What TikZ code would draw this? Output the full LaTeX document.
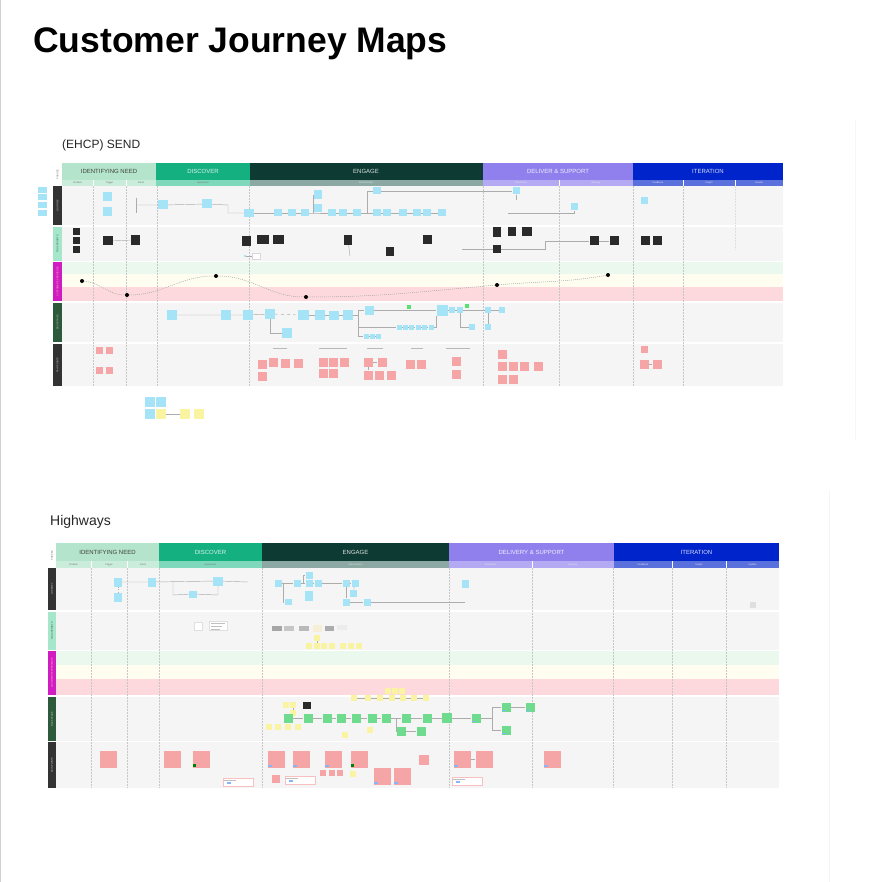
\documentclass[tikz,border=0pt]{standalone}
\usepackage{fontspec}
\setmainfont{Liberation Sans}
\definecolor{idn}{HTML}{B4E4CB}
\definecolor{idnS}{HTML}{C9EDDA}
\definecolor{dis}{HTML}{14B07F}
\definecolor{disS}{HTML}{80D8BC}
\definecolor{eng}{HTML}{0D3B33}
\definecolor{engS}{HTML}{8BA8A2}
\definecolor{del}{HTML}{8F80EE}
\definecolor{delS}{HTML}{B4AAF4}
\definecolor{ite}{HTML}{0024CC}
\definecolor{iteS}{HTML}{5A70DD}
\definecolor{rowbg}{HTML}{F5F5F5}
\definecolor{cxg}{HTML}{EAF8EE}
\definecolor{cxy}{HTML}{FEFDEF}
\definecolor{cxp}{HTML}{FDD9DD}
\definecolor{labdark}{HTML}{333333}
\definecolor{labmint}{HTML}{A6E6CB}
\definecolor{labmag}{HTML}{D01CC0}
\definecolor{labgreen}{HTML}{2E5A3C}
\definecolor{cyS}{HTML}{A5E3F6}
\definecolor{pkS}{HTML}{F5A5A5}
\definecolor{ylS}{HTML}{FAF3A2}
\definecolor{grS}{HTML}{6EDB8E}
\definecolor{dkS}{HTML}{2A2A2A}
\tikzset{
  hdr/.style={font=\fontsize{6}{6}\selectfont, anchor=center, inner sep=0},
  subh/.style={font=\fontsize{2.4}{2.4}\selectfont, text=black!55, anchor=center, inner sep=0},
  lab/.style={font=\fontsize{2.4}{2.4}\selectfont, rotate=90, anchor=center, inner sep=0},
  cy/.style={fill=cyS, inner sep=0, minimum width=9, minimum height=9},
  dk/.style={fill=dkS, inner sep=0, minimum width=9, minimum height=9},
  pk/.style={fill=pkS, inner sep=0, minimum width=9, minimum height=9},
  yl/.style={fill=ylS, inner sep=0, minimum width=6, minimum height=6},
  gr/.style={fill=grS, inner sep=0, minimum width=9, minimum height=9},
  note/.style={fill=white, draw=pkS!70, line width=0.4, inner sep=0, minimum width=30, minimum height=8},
  conn/.style={draw=gray!65, line width=0.45},
  vline/.style={draw=gray!45, line width=0.5, dash pattern=on 2pt off 1pt},
  dot/.style={circle, fill=black, inner sep=0, minimum size=4},
  curve/.style={draw=gray!70, line width=0.5, dash pattern=on 1pt off 1pt},
  tag/.style={fill=cyS!80!blue, inner sep=0, minimum width=4, minimum height=1.5},
  gtag/.style={fill=green!50!black, inner sep=0, minimum width=2.5, minimum height=2.5},
}
\begin{document}
\begin{tikzpicture}[x=1pt,y=-1pt]
\fill[white] (0,0) rectangle (882,882);
\useasboundingbox (0,0) rectangle (882,882);
\draw[gray!35, line width=1] (0.5,0) -- (0.5,882);
\draw[gray!8, line width=1] (855,120) -- (855,440);
\draw[gray!8, line width=1] (829,490) -- (829,882);

\node[anchor=base west, inner sep=0, font=\fontsize{35.5}{36}\selectfont\bfseries] (title) at (33,53) {Customer Journey Maps};

%% ================= MAP 1 =================
\node[anchor=base west, inner sep=0, font=\fontsize{12}{12}\selectfont, text=black!85] (t1) at (62,149) {(EHCP) SEND};

% row backgrounds
\fill[rowbg] (62,186) rectangle (783,225);
\fill[rowbg] (62,227) rectangle (783,261);
\fill[cxg] (62,262) rectangle (783,274);
\fill[cxy] (62,274) rectangle (783,287);
\fill[cxp] (62,287) rectangle (783,301);
\fill[rowbg] (62,303) rectangle (783,342);
\fill[rowbg] (62,344) rectangle (783,386);

% phase header
\fill[idn] (62,163) rectangle (156,180);
\fill[dis] (156,163) rectangle (250,180);
\fill[eng] (250,163) rectangle (483,180);
\fill[del] (483,163) rectangle (633,180);
\fill[ite] (633,163) rectangle (783,180);
\fill[idnS] (62,180) rectangle (156,186);
\fill[disS] (156,180) rectangle (250,186);
\fill[engS] (250,180) rectangle (483,186);
\fill[delS] (483,180) rectangle (633,186);
\fill[iteS] (633,180) rectangle (783,186);
\foreach \xx in {93,126,559,683,735} \draw[white, line width=0.4] (\xx,180) -- (\xx,186);
\node[hdr, text=black!75] (h1a) at (109,171.5) {IDENTIFYING NEED};
\node[hdr, text=white!85!dis] (h1b) at (203,171.5) {DISCOVER};
\node[hdr, text=white!85!eng] (h1c) at (366,171.5) {ENGAGE};
\node[hdr, text=white!88!del] (h1d) at (558,171.5) {DELIVER \& SUPPORT};
\node[hdr, text=white!85!ite] (h1e) at (708,171.5) {ITERATION};
\node[subh] (s1a) at (77.5,183) {Problem};
\node[subh] (s1b) at (109.5,183) {Trigger};
\node[subh] (s1c) at (141,183) {Intent};
\node[subh] (s1d) at (203,183) {Awareness};
\node[subh, text=white!90!black] (s1e) at (366,183) {Interaction(s)};
\node[subh, text=white!90!black] (s1f) at (521,183) {Resolution};
\node[subh, text=white!90!black] (s1g) at (596,183) {Delivery};
\node[subh, text=white!90!black] (s1h) at (658,183) {Feedback};
\node[subh, text=white!90!black] (s1i) at (709,183) {Insight};
\node[subh, text=white!90!black] (s1j) at (759,183) {Include};

% label column
\fill[white] (53,163) rectangle (62,186);
\fill[labdark] (53,186) rectangle (62,225);
\fill[labmint] (53,227) rectangle (62,261);
\fill[labmag] (53,262) rectangle (62,301);
\fill[labgreen] (53,303) rectangle (62,342);
\fill[labdark] (53,344) rectangle (62,386);
\node[lab, text=black!60] (l1a) at (57.5,174.5) {PHASES};
\node[lab, text=white!80!black] (l1b) at (57.5,205.5) {JOURNEY};
\node[lab, text=labgreen] (l1c) at (57.5,244) {TOUCHPOINTS};
\node[lab, text=pink] (l1d) at (57.5,281.5) {CUSTOMER EXPERIENCE};
\node[lab, text=white!80!black] (l1e) at (57.5,322.5) {BACKSTAGE};
\node[lab, text=white!80!black] (l1f) at (57.5,365) {PAIN POINTS};

% column lines
\foreach \xx in {93,126,157,249,483,559,633,683} \draw[vline] (\xx,186) -- (\xx,386);
\draw[vline, gray!25] (735,186) -- (735,250);

% journey row
\foreach \nm/\x/\y/\w/\h in {a1/42/190/9/6, a2/42/197/9/6, a3/42/205/9/6, a4/42/213/9/6,
  jt1/107/197/9/9, jt2/107/212/9/9, j1/163/205/10/9, j2/207/204/10/9, j3/249/213/10/8,
  j4/278/213/8/7, j5/292/213/8/7, j6/305/213/8/7, j7/318/195/8/9, j8/318/208/8/8,
  j9/332/213/8/7, j10/343/213/8/7, j11/357/213/8/7, j12/377/191/8/7, j13/377/213/8/7,
  j14/387/213/8/7, j15/403/213/8/7, j16/417/213/8/7, j17/427/213/8/7, j18/442/213/8/7,
  j19/516/191/7/7, j20/574/207/7/7, j21/644/201/7/7}
  \node[cy, minimum width=\w, minimum height=\h] (\nm) at (\x,\y) {};
\coordinate (v1) at (136,198); \coordinate (v2) at (136,213); \coordinate (h1) at (136,205);
\coordinate (k1) at (228,205); \coordinate (k2) at (228,213);
\draw[conn] (v1) -- (v2);
\draw[conn] (h1) -- (j1) -- (j2) -- (k1) -- (k2) -- (j3);
\draw[conn] (j3) -- (j4) -- (j5) -- (j6);
\coordinate (k3) at (313,213); \coordinate (k4) at (313,195); \coordinate (k5) at (313,208);
\draw[conn] (j6) -- (k3) -- (j9); \draw[conn] (k3) -- (k4) -- (j7); \draw[conn] (k5) -- (j8);
\draw[conn] (j9) -- (j10) -- (j11) -- (j13) -- (j14) -- (j15) -- (j16) -- (j17) -- (j18);
\coordinate (k6) at (367,213); \coordinate (k7) at (367,191); \coordinate (k8) at (516,200);
\draw[conn] (k6) -- (k7) -- (j12) -- (j19) -- (k8);
\coordinate (k9) at (508,213); \coordinate (k10) at (574,213);
\draw[conn] (k9) -- (k10) -- (j20);

% touchpoints row
\foreach \nm/\x/\y/\w/\h in {d1/76/232/7/7, d2/76/241/7/7, d3/76/250/7/7, d4/108/241/10/9,
  d5/135/240/9/10, d6/246/241/9/10, d7/263/240/12/9, d8/278/240/11/9, d9/348/240/8/10,
  d10/390/252/8/9, d11/427/240/9/9, d12/497/232/8/10, d13/512/232/8/9, d14/527/232/10/9,
  d15/497/249/8/8, d16/594/241/9/9, d17/614/241/9/9, d18/645/241/9/9, d19/657/241/9/9}
  \node[dk, minimum width=\w, minimum height=\h] (\nm) at (\x,\y) {};
\draw[conn] (d4) -- (d5);
\coordinate (m1) at (462,249); \coordinate (m2) at (545,249); \coordinate (m3) at (545,241); \coordinate (m4) at (350,256);
\draw[conn] (m1) -- (d15) -- (m2) -- (m3) -- (d16) -- (d17);
\draw[conn] (d9) -- (m4);
\node[fill=white, draw=gray!30, line width=0.3, inner sep=0, minimum width=8, minimum height=6] (w1) at (256,256) {};
\node[fill=cyS, inner sep=0, minimum size=2] (w2) at (245,256) {};
\draw[conn] (w2) -- (w1);

% customer experience curve
\node[dot] (e1) at (82,281) {};
\node[dot] (e2) at (127,295) {};
\node[dot] (e3) at (216,276) {};
\node[dot] (e4) at (306,297) {};
\node[dot] (e5) at (497,285) {};
\node[dot] (e6) at (608,275) {};
\draw[curve] (e1) to[out=-5,in=180] (e2) to[out=0,in=180] (e3) to[out=0,in=180] (e4) to[out=0,in=185] (e5) to[out=5,in=190] (e6);

% backstage row
\foreach \nm/\x/\y/\w/\h in {b1/172/315/10/10, b2/226/315/10/10, b3/248/315/10/10, b4/270/314/10/10,
  b5/287/333/10/10, b6/303/315/11/10, b7/320/315/10/10, b8/334/315/10/9, b9/348/315/10/10,
  b10/369/310/9/9, b11/442/310/11/11, b12/452/310/6/6, b13/460/310/6/6, b14/488/310/6/6,
  b15/502/310/6/6, b16/472/327/6/6, b17/488/327/6/6,
  s1/399/327/5/5, s2/405/327/5/5, s3/411/327/5/5, s4/418/327/5/5, s5/424/327/5/5, s6/431/327/5/5,
  r1/366/336/5/5, r2/372/336/5/5, r3/378/336/5/5}
  \node[cy, minimum width=\w, minimum height=\h] (\nm) at (\x,\y) {};
\node[fill=grS!80!green, inner sep=0, minimum size=3.5] (g1) at (409,307) {};
\node[fill=grS!80!green, inner sep=0, minimum size=3.5] (g2) at (467,306) {};
\draw[conn] (b1) -- (b2) -- (b3) -- (b4);
\draw[conn] (b4) |- (b5);
\draw[conn, dashed] (b4) -- (b6);
\draw[conn] (b6) -- (b7) -- (b8) -- (b9);
\coordinate (c1) at (358,315); \coordinate (c2) at (358,310); \coordinate (c3) at (358,336); \coordinate (c4) at (358,327);
\coordinate (c5) at (436,327); \coordinate (c6) at (436,316);
\draw[conn] (b9) -- (c1); \draw[conn] (c2) -- (c3);
\draw[conn] (c2) -- (b10) -- (b11) -- (b12) -- (b13);
\draw[conn] (c3) -- (r1) -- (r2) -- (r3);
\draw[conn] (c4) -- (s1) -- (s2) -- (s3) -- (s4) -- (s5) -- (s6) -- (c5) -- (c6);
\draw[conn] (b13) |- (b16);
\draw[conn] (b13) -- (b14) -- (b15);
\draw[conn] (b14) -- (b17);

% pain points row
\foreach \nm/\x/\y/\w in {p1/99/350/7, p2/109/350/7, p3/99/370/7, p4/109/370/7,
  p5/262/364/9, p6/273/362/9, p7/285/363/9, p8/298/363/9, p9/262/376/9,
  p10/323/362/9, p11/333/362/9, p12/344/362/9, p13/323/373/9, p14/333/373/9,
  p15/368/362/9, p16/382/362/9, p17/368/375/9, p18/379/375/9, p19/391/375/9,
  p20/410/364/9, p21/421/364/9, p22/456/361/9, p23/456/374/9,
  p24/502/354/9, p25/502/366/9, p26/513/366/9, p27/524/366/9, p28/538/366/9, p29/502/379/9, p30/513/379/9,
  p31/644/349/7, p32/644/364/9, p33/657/364/9}
  \node[pk, minimum width=\w, minimum height=\w] (\nm) at (\x,\y) {};
\draw[conn] (p15) -- (p16); \draw[conn] (p15) -- (p17); \draw[conn] (p32) -- (p33);
\foreach \xx/\ww in {280/14, 333/28, 375/16, 417/12, 458/24}
  \draw[gray!55, line width=0.6] (\xx-\ww/2,348) -- (\xx+\ww/2,348);

% stickies below map 1
\node[cy, minimum width=10, minimum height=10] (n1) at (150,402) {};
\node[cy, minimum width=10, minimum height=10] (n2) at (161,402) {};
\node[cy, minimum width=10, minimum height=10] (n3) at (150,414) {};
\node[yl, minimum width=10, minimum height=10] (n4) at (161,414) {};
\node[yl, minimum width=10, minimum height=10] (n5) at (185,414) {};
\node[yl, minimum width=10, minimum height=10] (n6) at (199,414) {};
\draw[conn] (n4) -- (n5);

%% ================= MAP 2 =================
\node[anchor=base west, inner sep=0, font=\fontsize{14}{14}\selectfont, text=black!85] (t2) at (50,525) {Highways};

\fill[rowbg] (56,568) rectangle (779,610);
\fill[rowbg] (56,612) rectangle (779,650);
\fill[cxg] (56,651) rectangle (779,665);
\fill[cxy] (56,665) rectangle (779,679);
\fill[cxp] (56,679) rectangle (779,695);
\fill[rowbg] (56,697) rectangle (779,741);
\fill[rowbg] (56,742) rectangle (779,788);

\fill[idn] (56,543) rectangle (159,561);
\fill[dis] (159,543) rectangle (262,561);
\fill[eng] (262,543) rectangle (449,561);
\fill[del] (449,543) rectangle (614,561);
\fill[ite] (614,543) rectangle (779,561);
\fill[idnS] (56,561) rectangle (159,568);
\fill[disS] (159,561) rectangle (262,568);
\fill[engS] (262,561) rectangle (449,568);
\fill[delS] (449,561) rectangle (614,568);
\fill[iteS] (614,561) rectangle (779,568);
\foreach \xx in {91,127,532,672,726} \draw[white, line width=0.4] (\xx,561) -- (\xx,568);
\node[hdr, text=black!75] (h2a) at (107.5,552) {IDENTIFYING NEED};
\node[hdr, text=white!85!dis] (h2b) at (210.5,552) {DISCOVER};
\node[hdr, text=white!85!eng] (h2c) at (355.5,552) {ENGAGE};
\node[hdr, text=white!88!del] (h2d) at (531.5,552) {DELIVERY \& SUPPORT};
\node[hdr, text=white!85!ite] (h2e) at (696.5,552) {ITERATION};
\node[subh] (s2a) at (73.5,564.5) {Problem};
\node[subh] (s2b) at (109,564.5) {Trigger};
\node[subh] (s2c) at (143,564.5) {Intent};
\node[subh] (s2d) at (210.5,564.5) {Awareness};
\node[subh, text=white!90!black] (s2e) at (355.5,564.5) {Interaction(s)};
\node[subh, text=white!90!black] (s2f) at (490.5,564.5) {Resolution};
\node[subh, text=white!90!black] (s2g) at (573,564.5) {Delivery};
\node[subh, text=white!90!black] (s2h) at (643,564.5) {Feedback};
\node[subh, text=white!90!black] (s2i) at (699,564.5) {Insight};
\node[subh, text=white!90!black] (s2j) at (752.5,564.5) {Update};

\fill[white] (48,543) rectangle (56,568);
\fill[labdark] (48,568) rectangle (56,610);
\fill[labmint] (48,612) rectangle (56,650);
\fill[labmag] (48,651) rectangle (56,695);
\fill[labgreen] (48,697) rectangle (56,741);
\fill[labdark] (48,742) rectangle (56,788);
\node[lab, text=black!60] (l2a) at (52,555.5) {PHASES};
\node[lab, text=white!80!black] (l2b) at (52,589) {JOURNEY};
\node[lab, text=labgreen] (l2c) at (52,631) {TOUCHPOINTS};
\node[lab, text=pink] (l2d) at (52,673) {CUSTOMER EXPERIENCE};
\node[lab, text=white!80!black] (l2e) at (52,719) {BACKSTAGE};
\node[lab, text=white!80!black] (l2f) at (52,765) {PAIN POINTS};

\foreach \xx in {91,127,159,262,449,532,613,672,726} \draw[vline] (\xx,568) -- (\xx,788);

% journey map 2
\foreach \nm/\x/\y/\w/\h in {q1/118/582/8/9, q2/118/597/8/9, q3/152/582/8/9, q4/218/581/10/9, q5/193/594/8/7,
  q6/278/583/7/7, q7/297/583/7/7, q8/309/575/7/7, q9/309/583/7/7, q10/318/583/7/7, q11/309/596/8/10,
  q12/288/602/7/6, q13/346/583/7/7, q14/355/583/7/7, q15/353/593/7/7, q16/346/602/7/7, q17/367/602/7/7,
  q18/465/584/7/8}
  \node[cy, minimum width=\w, minimum height=\h] (\nm) at (\x,\y) {};
\node[fill=gray!25, inner sep=0, minimum width=6, minimum height=6] (q19) at (753,605) {};
\draw[conn] (q1) -- (q3) -- (q4);
\draw[conn, dotted] (q1) -- (q2);
\coordinate (rr0) at (248,582); \coordinate (rr1) at (173,582); \coordinate (rr2) at (173,595); \coordinate (rr3) at (218,595);
\draw[conn] (q4) -- (rr0);
\draw[conn] (rr1) -- (rr2) -- (q5) -- (rr3) -- (q4);
\coordinate (rr4) at (283,583); \coordinate (rr5) at (283,602);
\draw[conn] (q6) -- (q7); \draw[conn] (rr4) -- (rr5) -- (q12);
\coordinate (rr6) at (303,583); \coordinate (rr7) at (303,575);
\draw[conn] (q7) -- (q9); \draw[conn] (rr6) -- (rr7) -- (q8);
\draw[conn] (q9) -- (q10) -- (q13) -- (q14);
\draw[conn] (q13) -- (q16) -- (q17);
\draw[conn] (q14) -- (q15);
\coordinate (rr8) at (465,602);
\draw[conn] (q17) -- (rr8);

% touchpoints map 2
\node[fill=white, draw=gray!25, line width=0.3, inner sep=0, minimum width=8, minimum height=8] (u1) at (198,626) {};
\node[fill=white, draw=gray!25, line width=0.3, inner sep=0, minimum width=18, minimum height=9] (u2) at (218,626) {};
\draw[gray!50, line width=0.3] (211,623) -- (225,623) (211,626) -- (222,626) (211,629) -- (220,629);
\node[fill=gray!70, inner sep=0, minimum width=10, minimum height=5] (u3) at (277,628) {};
\node[fill=gray!45, inner sep=0, minimum width=10, minimum height=5] (u4) at (289,628) {};
\node[fill=gray!55, inner sep=0, minimum width=10, minimum height=5] (u5) at (304,628) {};
\node[fill=ylS!60!brown!30, inner sep=0, minimum width=9, minimum height=7] (u6) at (317,628) {};
\node[fill=gray!65, inner sep=0, minimum width=9, minimum height=5] (u7) at (329,628) {};
\node[fill=gray!15, inner sep=0, minimum width=10, minimum height=5] (u8) at (342,627) {};
\foreach \nm/\x/\y in {y1/317/638, y2/309/646, y3/317/646, y4/324/646, y5/332/646, y6/343/646, y7/351/646, y8/359/646}
  \node[yl] (\nm) at (\x,\y) {};
\draw[conn] (y1) -- (y3);

% backstage map 2
\foreach \nm/\x/\y in {ya1/354/698, ya2/368/698, ya3/380/698, ya4/392/698, ya5/403/698, ya6/414/698, ya7/426/698,
  yb1/388/691, yb2/395/691, yb3/402/691,
  yc1/286/705, yc2/293/705, yc3/293/713, yc4/269/727, yc5/278/727, yc6/288/727, yc7/298/727, yc8/345/735, yc9/370/730}
  \node[yl] (\nm) at (\x,\y) {};
\draw[conn] (ya1) -- (ya2) -- (ya3) -- (ya4) -- (ya5) -- (ya6) -- (ya7);
\draw[conn] (yc2) -- (yc3);
\node[dk, minimum width=8, minimum height=7] (dd1) at (307,705) {};
\foreach \nm/\x/\y/\w in {G1/288/718/9, G2/308/718/9, G3/327/718/9, G4/341/718/9, G5/356/718/9, G6/372/718/9,
  G7/386/718/9, G8/406/718/9, G9/427/718/9, G10/447/718/10, G11/476/718/9, G12/506/707/9, G13/530/707/9,
  G14/506/730/9, G15/401/731/9, G16/421/731/9}
  \node[gr, minimum width=\w, minimum height=\w] (\nm) at (\x,\y) {};
\draw[conn] (G1) -- (G2) -- (G3) -- (G4) -- (G5) -- (G6) -- (G7) -- (G8) -- (G9) -- (G10) -- (G11);
\coordinate (z1) at (492,718); \coordinate (z2) at (492,707); \coordinate (z3) at (492,730);
\draw[conn] (G11) -- (z1); \draw[conn] (z2) -- (z3);
\draw[conn] (z2) -- (G12); \draw[conn] (z3) -- (G14); \draw[conn] (G12) -- (G13);
\coordinate (z4) at (396,718); \coordinate (z5) at (396,731);
\draw[conn] (z4) -- (z5) -- (G15) -- (G16);
\foreach \nm in {G11,G12,G13,G14} \node[tag, anchor=south west] at ([xshift=0.5pt,yshift=0.5pt]\nm.south west) {};

% pain points map 2
\foreach \nm/\x/\y/\w in {P1/108/759/17, P2/172/759/17, P3/201/759/17, P4/276/759/17, P5/301/759/17,
  P6/333/759/17, P7/359/759/17, P8/424/760/10, P9/382/776/17, P10/402/776/17, P11/462/759/17,
  P12/484/759/17, P13/552/759/17, P14/276/779/8, P15/323/773/6, P16/332/773/6, P17/340/773/6}
  \node[pk, minimum width=\w, minimum height=\w] (\nm) at (\x,\y) {};
\node[yl] (Y1) at (353,774) {};
\draw[conn] (P11) -- (P12);
\foreach \nm in {P4,P5,P6,P9,P10,P11,P13} \node[tag, anchor=south west] at ([xshift=0.8pt,yshift=0.8pt]\nm.south west) {};
\foreach \nm in {P3,P7} \node[gtag, anchor=south west] at ([xshift=0.8pt,yshift=0.8pt]\nm.south west) {};
\node[note] (N1) at (238,782) {};
\node[note] (N2) at (300,780) {};
\node[note] (N3) at (467,781) {};
\foreach \nm in {N1,N2,N3} {
  \node[tag, anchor=west] at ([xshift=4pt,yshift=-1pt]\nm.west) {};
  \draw[gray!50, line width=0.3] ([xshift=1.5pt,yshift=-2pt]\nm.north west) -- ++(12,0);
}
\end{tikzpicture}
\end{document}
